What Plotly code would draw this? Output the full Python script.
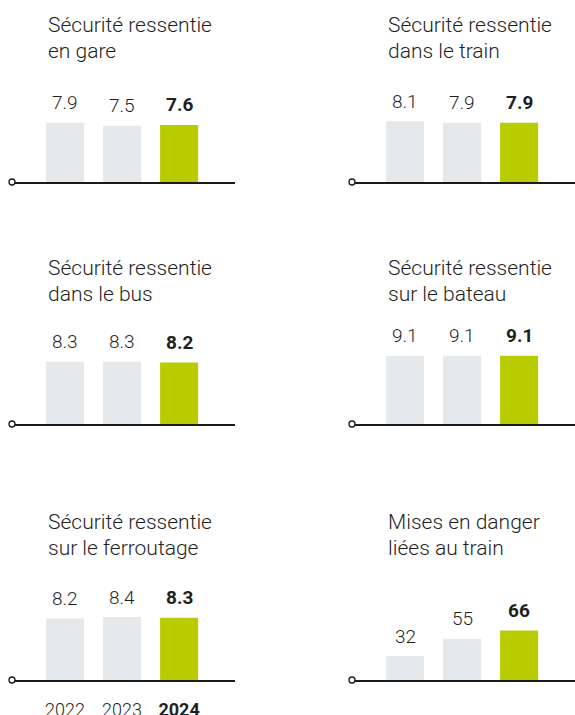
import plotly.graph_objects as go

W, H = 575, 715

years = [2022, 2023, 2024]
year_labels = ["2022", "2023", "<b>2024</b>"]

titles = [
    ["Sécurité ressentie", "en gare"],
    ["Sécurité ressentie", "dans le train"],
    ["Sécurité ressentie", "dans le bus"],
    ["Sécurité ressentie", "sur le bateau"],
    ["Sécurité ressentie", "sur le ferroutage"],
    ["Mises en danger", "liées au train"],
]
gare = [7.9, 7.5, 7.6]
train = [8.1, 7.9, 7.9]
bus = [8.3, 8.3, 8.2]
bateau = [9.1, 9.1, 9.1]
ferroutage = [8.2, 8.4, 8.3]
mises_en_danger = [32, 55, 66]
series = [gare, train, bus, bateau, ferroutage, mises_en_danger]
scale_max = [10, 10, 10, 10, 10, 100]

GREY = "#e6e9ec"
GREEN = "#b8cc00"
TEXT = "#1f1f1f"
FONT = "Roboto, Liberation Sans, Arial, sans-serif"
LIGHT = 300

baselines = [182, 182, 424, 424, 680, 680]
xdomains = [(12 / W, 235 / W), (352 / W, 1.0)]
title_x = [46, 386]
title_y = [(25, 51), (25, 51), (268, 294), (268, 294), (522, 548), (522, 548)]
plot_h = 75

fig = go.Figure()
layout = dict(
    width=W, height=H, margin=dict(l=0, r=0, t=0, b=0),
    paper_bgcolor="white", plot_bgcolor="white", showlegend=False,
    font=dict(family=FONT, color=TEXT),
)
annotations = []
shapes = []

for i, vals in enumerate(series):
    n = i + 1
    xa = "x" if n == 1 else f"x{n}"
    ya = "y" if n == 1 else f"y{n}"
    col = i % 2
    fig.add_trace(go.Bar(
        x=years, y=vals, xaxis=xa, yaxis=ya,
        marker=dict(color=[GREY, GREY, GREEN], line=dict(width=0)),
        width=0.667, hoverinfo="skip",
    ))
    y0 = 1 - baselines[i] / H
    y1 = y0 + plot_h / H
    xkey = "xaxis" if n == 1 else f"xaxis{n}"
    ykey = "yaxis" if n == 1 else f"yaxis{n}"
    show_ticks = (n == 5)
    layout[xkey] = dict(
        domain=list(xdomains[col]), anchor=ya, type="linear",
        range=[years[0] - 0.93, years[-1] + 0.98], showgrid=False, zeroline=False,
        showline=True, linecolor="#1a1a1a", linewidth=1.5,
        ticks="", showticklabels=show_ticks,
        tickmode="array", tickvals=years, ticktext=year_labels,
        tickfont=dict(family=FONT, size=18, color=TEXT, weight=LIGHT),
        ticklabelstandoff=13, automargin=False, fixedrange=True,
    )
    layout[ykey] = dict(
        domain=[y0, y1], anchor=xa, range=[0, scale_max[i]],
        showgrid=False, zeroline=False, showline=False,
        showticklabels=False, ticks="", automargin=False, fixedrange=True,
    )
    # value labels
    for j, (yr, v) in enumerate(zip(years, vals)):
        txt = f"<b>{v}</b>" if j == 2 else f"{v}"
        annotations.append(dict(
            x=yr, y=v, xref=xa, yref=ya, text=txt, showarrow=False,
            yanchor="middle", xanchor="center", yshift=20,
            font=dict(family=FONT, size=19, color=TEXT, weight=LIGHT),
        ))
    # titles
    for line, ty in zip(titles[i], title_y[i]):
        annotations.append(dict(
            x=title_x[col] / W, y=1 - ty / H, xref="paper", yref="paper",
            text=line, showarrow=False, xanchor="left", yanchor="middle",
            font=dict(family=FONT, size=21, color=TEXT, weight=LIGHT),
        ))
    # origin circle (decoration, paper coordinates)
    cx = xdomains[col][0]
    cy = 1 - baselines[i] / H
    shapes.append(dict(
        type="circle", xref="paper", yref="paper",
        xsizemode="pixel", ysizemode="pixel", xanchor=cx, yanchor=cy,
        x0=-3, x1=3, y0=-3, y1=3,
        line=dict(color="#1a1a1a", width=1.3), fillcolor="white",
    ))

layout["annotations"] = annotations
layout["shapes"] = shapes
fig.update_layout(**layout)
fig.write_html(
    "out.html", config={"displayModeBar": False},
    post_script="document.body.style.margin='0';",
)
